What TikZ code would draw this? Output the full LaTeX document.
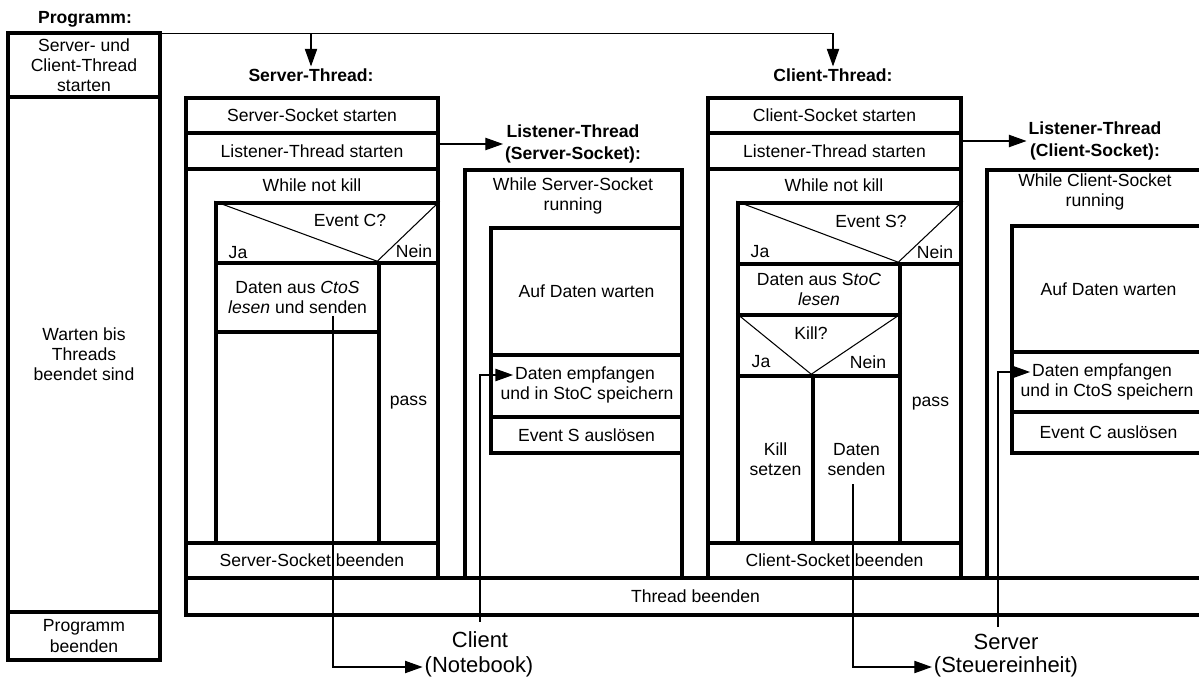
\documentclass[tikz,border=0pt]{standalone}
\usepackage{fontspec}
\setmainfont{Liberation Sans}
\usetikzlibrary{positioning}
\usetikzlibrary{calc}
\usetikzlibrary{arrows.meta}
\tikzstyle{cell} = [draw, line width=2pt, inner sep=0pt, align=center, font=\fontsize{10}{11.5}\selectfont]
\tikzstyle{txt} = [inner sep=1pt, align=center, font=\fontsize{10}{11.5}\selectfont]
\tikzstyle{head} = [inner sep=1pt, align=center, font=\fontsize{10}{12}\selectfont\bfseries]
\tikzstyle{dev} = [inner sep=1pt, font=\fontsize{12.5}{15}\selectfont]
\tikzstyle{diag} = [line width=0.6pt]
\tikzstyle{conn} = [line width=0.6pt, -{Triangle[length=10pt, width=7pt]}]
% Struktogramm-Feld: Name, links, oben, rechts, unten, Text (in Pixeln)
\newcommand{\nsbox}[6]{\node[cell, minimum width={(#4-#2)*0.02cm}, minimum height={(#5-#3)*0.02cm}] (#1) at ({(#2+#4)/2},{(#3+#5)/2}) {#6};}

\begin{document}
\begin{tikzpicture}[x=0.02cm, y=-0.02cm]
      \useasboundingbox (0,0) rectangle (1199,678);
      \clip (0,0) rectangle (1199,678);
      % Programm
      \node[head] (progtitle) at (85,19) {Programm:};
      \nsbox{pstart}{8}{33}{160}{97}{Server- und\\Client-Thread\\starten}
      \nsbox{pwait}{8}{97}{160}{612}{Warten bis\\Threads\\beendet sind}
      \nsbox{pend}{8}{612}{160}{660}{Programm\\beenden}
      % Server-Thread
      \node[head] (sthtitle) at (311,75) {Server-Thread:};
      \nsbox{ssst}{186}{98}{438}{133}{Server-Socket starten}
      \nsbox{slst}{186}{133}{438}{169}{Listener-Thread starten}
      \nsbox{sloop}{186}{169}{438}{543}{}
      \node[txt] (swhile) at (312,185) {While not kill};
      \nsbox{sif}{216}{203}{438}{263}{}
      \nsbox{syes}{216}{263}{379}{332}{Daten aus \textit{CtoS}\\\textit{lesen} und senden}
      \nsbox{syes2}{216}{332}{379}{543}{}
      \nsbox{sno}{379}{263}{438}{543}{pass}
      \nsbox{send}{186}{543}{438}{578}{Server-Socket beenden}
      \node[txt] (sevent) at (350,220) {Event C?};
      \node[txt] (sja) at (238,253) {Ja};
      \node[txt] (snein) at (414,251) {Nein};
      \draw[diag] (sif.north west) -- (sno.north west) -- (sif.north east);
      % Thread beenden
      \nsbox{tend}{186}{578}{1205}{615}{Thread beenden}
      % Listener-Thread (Server-Socket)
      \node[head] (lstitle) at (573,144) {Listener-Thread\\(Server-Socket):};
      \nsbox{lsloop}{465}{170}{682}{578}{}
      \node[txt] (lswhile) at (573,196) {While Server-Socket\\running};
      \nsbox{lswait}{491}{228}{682}{355}{Auf Daten warten}
      \nsbox{lsrecv}{491}{355}{682}{417}{}
      \node[txt] (lsrecva) at (585,375) {Daten empfangen};
      \node[txt] (lsrecvb) at (587,395) {und in StoC speichern};
      \nsbox{lsevent}{491}{417}{682}{453}{Event S auslösen}
      % Client-Thread
      \node[head] (cthtitle) at (833,75) {Client-Thread:};
      \nsbox{csst}{708}{98}{961}{133}{Client-Socket starten}
      \nsbox{clst}{708}{133}{961}{169}{Listener-Thread starten}
      \nsbox{cloop}{708}{169}{961}{543}{}
      \node[txt] (cwhile) at (834,185) {While not kill};
      \nsbox{cif}{738}{203}{961}{264}{}
      \nsbox{cread}{738}{264}{900}{315}{Daten aus S\textit{toC}\\\textit{lesen}}
      \nsbox{ckill}{738}{315}{900}{376}{}
      \nsbox{ckset}{738}{376}{813}{543}{Kill\\setzen}
      \nsbox{csend}{813}{376}{900}{543}{Daten\\senden}
      \nsbox{cpass}{900}{264}{961}{543}{pass}
      \nsbox{cend}{708}{543}{961}{578}{Client-Socket beenden}
      \node[txt] (cevent) at (871,221) {Event S?};
      \node[txt] (cja) at (760,252) {Ja};
      \node[txt] (cnein) at (935,252) {Nein};
      \node[txt] (ckq) at (811,333) {Kill?};
      \node[txt] (ckja) at (761,362) {Ja};
      \node[txt] (cknein) at (868,362) {Nein};
      \draw[diag] (cif.north west) -- (cpass.north west) -- (cif.north east);
      \draw[diag] (ckill.north west) -- (csend.north west) -- (ckill.north east);
      % Listener-Thread (Client-Socket)
      \node[head] (lctitle) at (1095,141) {Listener-Thread\\(Client-Socket):};
      \nsbox{lcloop}{987}{170}{1205}{578}{}
      \node[txt] (lcwhile) at (1095,192) {While Client-Socket\\running};
      \nsbox{lcwait}{1012}{226}{1205}{352}{Auf Daten warten}
      \nsbox{lcrecv}{1012}{352}{1205}{412}{}
      \node[txt] (lcrecva) at (1102,372) {Daten empfangen};
      \node[txt] (lcrecvb) at (1107,392) {und in CtoS speichern};
      \nsbox{lcevent}{1012}{412}{1205}{453}{Event C auslösen}
      % Geraete
      \node[dev] (clienta) at (480,640) {Client};
      \node[dev] (clientb) at (479,667) {(Notebook)};
      \node[dev] (servera) at (1006,642) {Server};
      \node[dev] (serverb) at (1006,667) {(Steuereinheit)};
      \coordinate (sfrom) at (333,316);
      \coordinate (cfrom) at (853,484);
      % Verbindungen
      \draw[conn] ([yshift=-0.04cm]pstart.north east) -| (sthtitle);
      \draw[conn] ([yshift=-0.04cm]pstart.north east) -| (cthtitle);
      \draw[conn] (lstitle -| slst.east) -- (lstitle);
      \draw[conn] (lctitle -| clst.east) -- (lctitle);
      \draw[conn] (sfrom) |- (clientb);
      \draw[conn] ([yshift=0.16cm]clienta.north) |- (lsrecva);
      \draw[conn] (cfrom) |- (serverb);
      \draw[conn] ([xshift=-0.16cm,yshift=0.1cm]servera.north) |- (lcrecva);
\end{tikzpicture}
\end{document}
